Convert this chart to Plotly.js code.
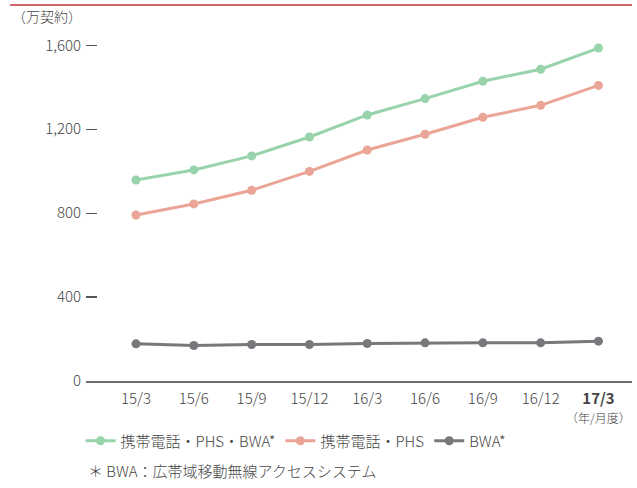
<!DOCTYPE html>
<html>
<head>
<meta charset="utf-8">
<script src="https://cdn.plot.ly/plotly-3.0.1.min.js"></script>
<style>html,body{margin:0;padding:0;background:#fff;}#chart{width:637px;height:488px;}</style>
</head>
<body>
<div id="chart"></div>
<script>
const categories = ["15/3","15/6","15/9","15/12","16/3","16/6","16/9","16/12","17/3"];
const tickLabels = ["15/3","15/6","15/9","15/12","16/3","16/6","16/9","16/12","<b>17/3</b>"];
const seriesNames = ["携帯電話・PHS・BWA*","携帯電話・PHS","BWA*"];
const totalValues = [958, 1006, 1073, 1163, 1268, 1346, 1429, 1486, 1587];
const phsValues   = [791, 844, 909, 999, 1101, 1176, 1257, 1314, 1409];
const bwaValues   = [177, 169, 174, 174, 179, 182, 182, 182, 190];
const yTicks = [0, 400, 800, 1200, 1600];
const yTickLabels = ["0","400","800","1,200","1,600"];
const colors = ["#98d3ac", "#eba596", "#77787c"];

const FONT = '"Noto Sans CJK JP", sans-serif';
const JFONT = '"Noto Sans CJK JP", sans-serif';

const series = [totalValues, phsValues, bwaValues];
const traces = series.map((vals, i) => ({
  type: 'scatter', mode: 'lines+markers',
  x: categories, y: vals, name: seriesNames[i],
  line: {color: colors[i], width: 3},
  marker: {color: colors[i], size: 9},
  hoverinfo: 'skip'
}));

const layout = {
  width: 637, height: 488,
  margin: {l: 86, r: 5, t: 30, b: 107},
  paper_bgcolor: '#fff', plot_bgcolor: '#fff',
  font: {family: FONT, size: 15, color: '#444'},
  showlegend: true,
  legend: {orientation: 'h', x: -0.01, xanchor: 'left', y: -0.171, yanchor: 'middle',
           font: {family: JFONT, size: 15, color: '#444', weight: 300}, traceorder: 'normal',
           itemwidth: 30, tracegroupgap: 0},
  xaxis: {type: 'category', range: [-0.865, 8.58], tickvals: categories, ticktext: tickLabels,
          showgrid: false, zeroline: false, showline: true, linecolor: '#6e6e6e', linewidth: 2,
          ticks: '', ticklabelstandoff: 3,
          tickfont: {family: FONT, size: 15, color: '#444', weight: 300}, fixedrange: true},
  yaxis: {range: [0, 1673], tickvals: yTicks, ticktext: yTickLabels, showgrid: false,
          zeroline: false, showline: false, ticks: 'inside', ticklen: 11, tickwidth: 1.3,
          ticklabelstandoff: 4,
          tickcolor: '#555', tickfont: {family: FONT, size: 15, color: '#444', weight: 300}, fixedrange: true},
  shapes: [
    {type: 'line', xref: 'paper', yref: 'paper', x0: -0.139, x1: 1.0, y0: 1.071, y1: 1.071,
     line: {color: '#c1323c', width: 1.5}}
  ],
  annotations: [
    {xref: 'paper', yref: 'paper', x: -0.14, y: 1.04, xanchor: 'left', yanchor: 'middle',
     text: '（万契約）', showarrow: false, font: {family: JFONT, size: 14, color: '#444', weight: 300}},
    {xref: 'x', yref: 'paper', x: 8, y: -0.074, xanchor: 'center', yanchor: 'top',
     text: '（年/月度）', showarrow: false, font: {family: JFONT, size: 12, color: '#444', weight: 300}},
    {xref: 'paper', yref: 'paper', x: 0.0, y: -0.254, xanchor: 'left', yanchor: 'middle',
     text: '＊ BWA：広帯域移動無線アクセスシステム', showarrow: false,
     font: {family: JFONT, size: 15, color: '#444', weight: 300}}
  ]
};

Plotly.newPlot('chart', traces, layout, {displayModeBar: false, staticPlot: true});
</script>
</body>
</html>
